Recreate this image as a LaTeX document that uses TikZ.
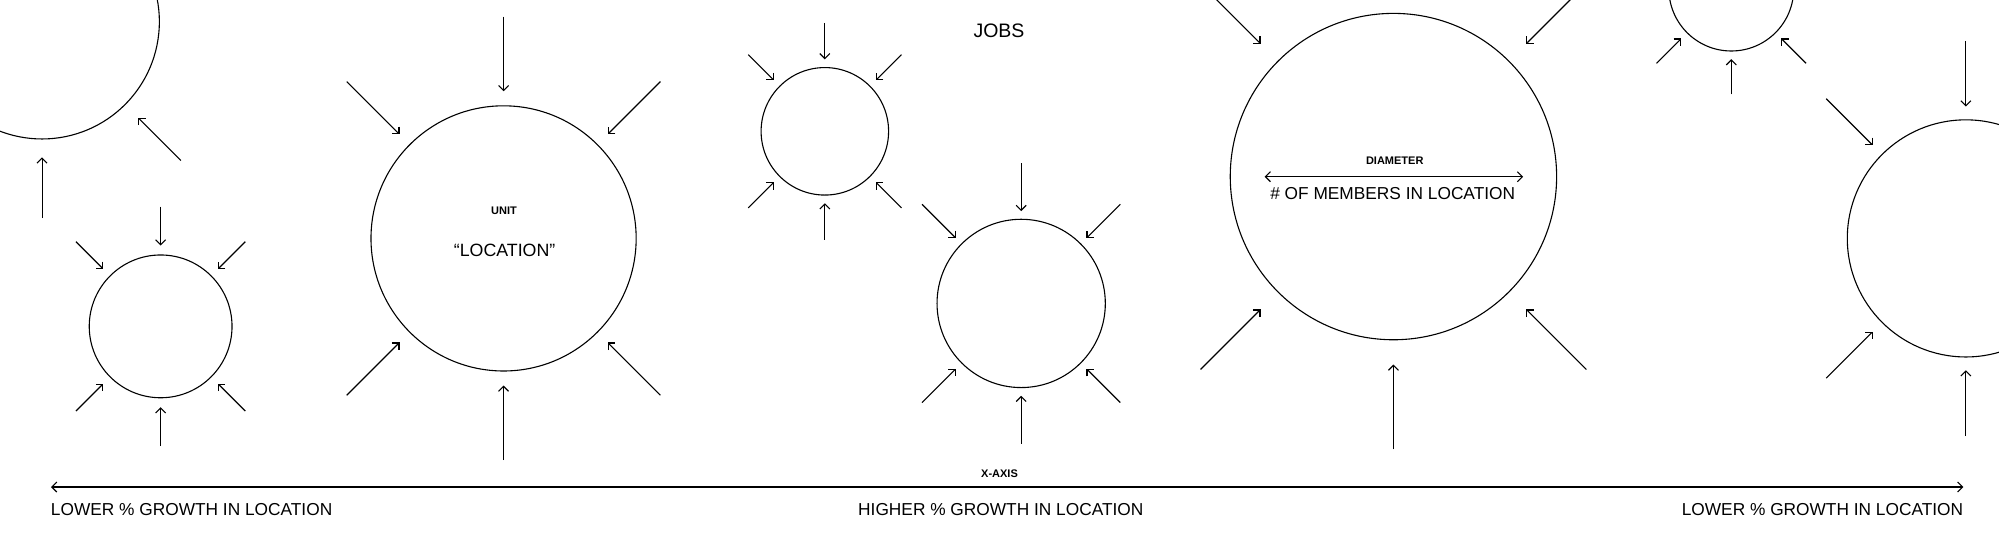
\documentclass[tikz,border=0pt]{standalone}
\usepackage{fontspec}
\setmainfont{Liberation Sans}
\usetikzlibrary{arrows.meta,calc}
\tikzset{
  loc/.style={draw, circle, inner sep=0pt, line width=1.1pt},
  arr/.style={-{Straight Barb[length=5pt,width=10pt]}, line width=1.1pt},
  dbl/.style={{Straight Barb[length=5pt,width=10pt]}-{Straight Barb[length=5pt,width=10pt]}, line width=1.1pt},
  big/.style={font=\fontsize{17.3}{20}\selectfont, inner sep=0pt},
  small/.style={font=\fontsize{11}{13}\selectfont\bfseries, inner sep=0pt},
}
\newcommand\sunloc[6]{% name, x, y, r, gap, len
  \node[loc, minimum size={2*#4*1.2749pt}] (#1) at (#2,#3) {};
  \foreach \a in {45,90,135,225,270,315}{
    \coordinate (#1-\a) at ($(#1)+(\a:#4+#5+#6)$);
    \draw[arr, shorten >={#5*1.2749pt}] (#1-\a) -- (#1);
  }
}
\begin{document}
\begin{tikzpicture}[x=1.2749pt, y=-1.2749pt]
\path[use as bounding box, clip] (0,0) rectangle (1568,435);
\fill[white] (0,0) rectangle (1568,435);

\sunloc{A}{33}{17}{92}{14}{48}
\sunloc{B}{126}{256}{56}{7}{31}
\sunloc{C}{395}{187}{104}{11}{59}
\sunloc{D}{647}{103}{50}{6}{29}
\sunloc{E}{801}{238}{66}{6}{38}
\sunloc{F}{1093}{138.5}{128}{19}{67}
\sunloc{G}{1358}{-9}{49}{6}{28}
\sunloc{H}{1542}{187}{93}{10}{52}

% texts
\node[font=\fontsize{19.5}{22}\selectfont, inner sep=0pt, anchor=base] (jobs) at (783.6,29.3) {JOBS};
\node[small, anchor=base] (unit) at (395.3,167.9) {UNIT};
\node[font=\fontsize{17.8}{20}\selectfont, inner sep=0pt, anchor=base] (loctext) at (395.8,201.3) {“LOCATION”};

% diameter
\coordinate (dL) at (992,138.6);
\coordinate (dR) at (1194.7,138.6);
\draw[dbl] (dL) -- (dR);
\node[small, anchor=base] (diam) at (1094,128.9) {DIAMETER};
\node[big, anchor=base] (members) at (1092.4,156.3) {\# OF MEMBERS IN LOCATION};

% x axis
\coordinate (xL) at (40,382);
\coordinate (xR) at (1540,382);
\draw[dbl] (xL) -- (xR);
\node[small, anchor=base] (xaxis) at (784,374.5) {X-AXIS};
\node[big, anchor=base west] (lowL) at (39.8,404.5) {LOWER \% GROWTH IN LOCATION};
\node[big, anchor=base] (high) at (785,404.5) {HIGHER \% GROWTH IN LOCATION};
\node[big, anchor=base east] (lowR) at (1540,404.5) {LOWER \% GROWTH IN LOCATION};
\end{tikzpicture}
\end{document}
